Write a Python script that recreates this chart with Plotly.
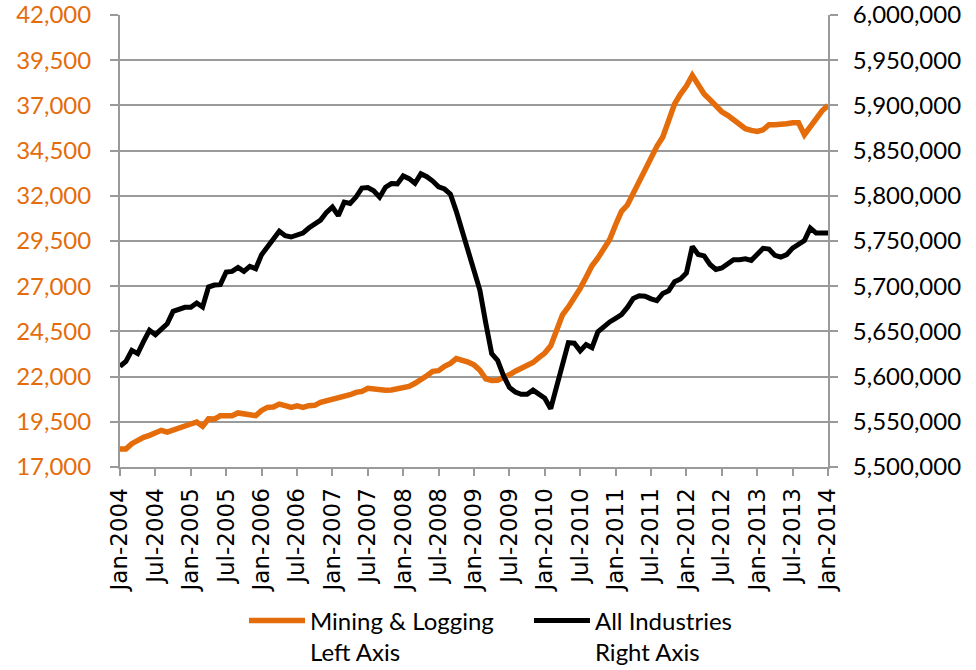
import plotly.graph_objects as go
import pandas as pd

months = [d.strftime("%b-%Y") for d in pd.date_range("2004-01-01", "2014-01-01", freq="MS")]

mining_logging = [
    17990, 17990, 18290, 18510, 18640, 18750, 18930, 19030, 18930, 19030, 19140, 19300,
    19400, 19490, 19250, 19670, 19650, 19840, 19840, 19840, 19990, 19930, 19890, 19840,
    20130, 20300, 20320, 20480, 20390, 20300, 20380, 20300, 20390, 20410, 20575, 20650,
    20720, 20810, 20900, 21000, 21130, 21180, 21350, 21310, 21260, 21240, 21260, 21330,
    21430, 21460, 21630, 21810, 22050, 22290, 22330, 22570, 22730, 23000, 22930, 22800,
    22650, 22350, 21870, 21790, 21800, 21930, 22100, 22300, 22450, 22580, 22780, 23050,
    23300, 23700, 24550, 25420, 25850, 26310, 26880, 27500, 28130, 28560, 29100, 29580,
    30400, 31140, 31490, 32150, 32720, 33390, 34040, 34740, 35250, 36250, 37080, 37630,
    38070, 38660, 38150, 37630, 37310, 36950, 36650, 36450, 36230, 35970, 35710, 35620,
    35560, 35650, 35930, 35930, 35930, 35990, 36040, 36040, 35380, 35850, 36330, 36700,
    37000,
]

all_industries = [
    5611300, 5616900, 5629000, 5625400, 5639000, 5651200, 5646400, 5651900, 5658500, 5672200, 5674000, 5676600,
    5676600, 5681400, 5677000, 5699100, 5701300, 5701700, 5715700, 5716400, 5720800, 5716400, 5722000, 5719400,
    5734900, 5744800, 5752200, 5760700, 5755900, 5754400, 5756000, 5758800, 5764400, 5769100, 5773200, 5781700,
    5787600, 5778000, 5793000, 5791500, 5798600, 5808600, 5809100, 5805500, 5798500, 5809500, 5813500, 5813200,
    5822000, 5819000, 5813800, 5824300, 5821200, 5816300, 5809900, 5807500, 5801800, 5782800, 5761400, 5742800,
    5720000, 5695500, 5659000, 5625400, 5618000, 5601000, 5588000, 5583000, 5580500, 5580500, 5585000, 5580500,
    5576000, 5564500, 5590000, 5614000, 5637500, 5637000, 5628500, 5635500, 5632000, 5649500, 5655500, 5660500,
    5664500, 5668500, 5676500, 5686500, 5689500, 5689000, 5686000, 5684000, 5692000, 5695000, 5705000, 5708000,
    5714500, 5744000, 5735000, 5733500, 5724000, 5718500, 5720100, 5724900, 5729300, 5729300, 5730400, 5728600,
    5734900, 5741900, 5741100, 5734100, 5732300, 5734900, 5742200, 5747000, 5750500, 5764300, 5758800, 5758800,
    5758800,
]

x_ticks = months[::6]
left_ticks = list(range(17000, 42001, 2500))
right_ticks = list(range(5500000, 6000001, 50000))

ORANGE = "#E46C0A"
GRID = "#9a9a9a"
NUMFONT = "Lato"

fig = go.Figure()
fig.add_trace(go.Scatter(
    x=months, y=mining_logging, mode="lines", name="Mining & Logging<br>Left Axis",
    line=dict(color=ORANGE, width=5.5), yaxis="y",
))
fig.add_trace(go.Scatter(
    x=months, y=all_industries, mode="lines", name="All Industries<br>Right Axis",
    line=dict(color="#000000", width=5), yaxis="y2",
))

fig.update_layout(
    width=976, height=670,
    margin=dict(l=120, r=148, t=15, b=203),
    paper_bgcolor="white", plot_bgcolor="white",
    showlegend=True,
    legend=dict(
        orientation="h", xref="container", yref="container",
        x=0.25, y=0.107, xanchor="left", yanchor="top",
        font=dict(family=NUMFONT, size=24, color="#000000"),
        entrywidth=214, entrywidthmode="pixels", itemwidth=56,
        valign="top",
    ),
    xaxis=dict(
        type="category", range=[0, len(months) - 1],
        tickmode="array", tickvals=x_ticks, ticktext=x_ticks,
        tickangle=-90, ticks="outside", ticklen=7, tickcolor=GRID, tickwidth=2,
        showline=True, linecolor=GRID, linewidth=2, mirror=False,
        showgrid=False, zeroline=False, automargin=False,
        tickfont=dict(family="DejaVu Sans", size=23, color="#000000"),
        ticklabelstandoff=3,
    ),
    yaxis=dict(
        range=[17000, 42000], tickmode="array", tickvals=left_ticks,
        tickformat=",d", ticks="outside", ticklen=8, tickcolor=GRID, tickwidth=2,
        showline=True, linecolor=GRID, linewidth=2,
        showgrid=True, gridcolor=GRID, gridwidth=2, zeroline=False,
        tickfont=dict(family=NUMFONT, size=24, color=ORANGE),
        ticklabelstandoff=14, ticklabeloverflow="allow", automargin=False,
    ),
    yaxis2=dict(
        range=[5500000, 6000000], tickmode="array", tickvals=right_ticks,
        tickformat=",d", ticks="outside", ticklen=8, tickcolor=GRID, tickwidth=2,
        overlaying="y", side="right",
        showline=True, linecolor=GRID, linewidth=2,
        showgrid=False, zeroline=False,
        tickfont=dict(family=NUMFONT, size=24, color="#000000"),
        ticklabelstandoff=10, ticklabeloverflow="allow", automargin=False,
    ),
)

fig.write_html(
    "out.html",
    config={"displayModeBar": False},
    post_script="document.body.style.margin='0';",
)
